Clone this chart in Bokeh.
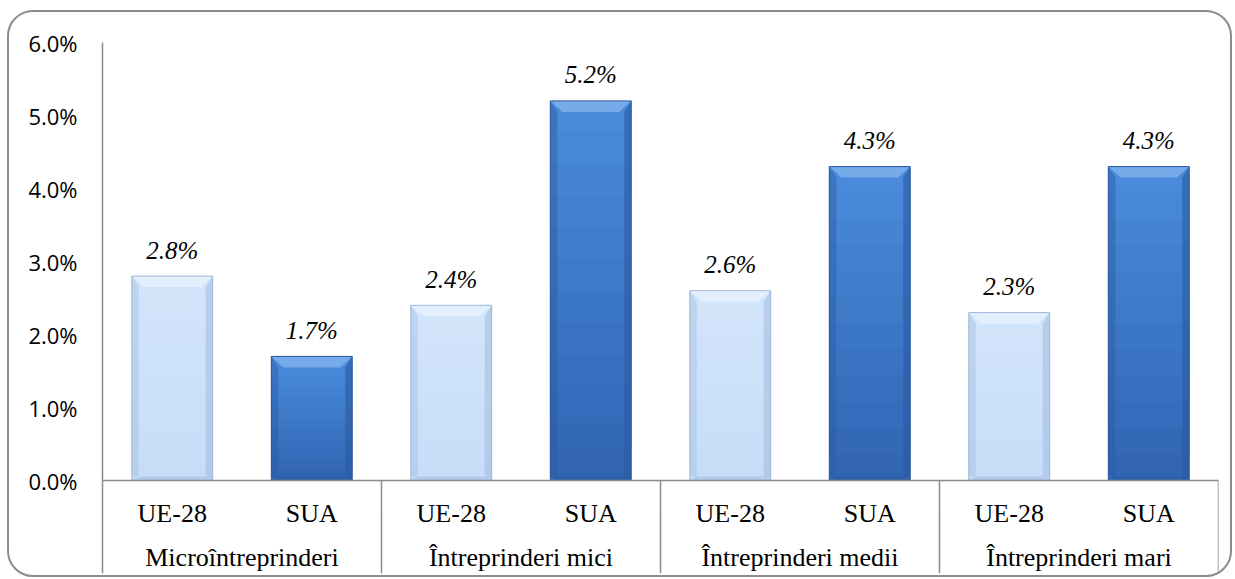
import numpy as np
from bokeh.plotting import figure
from bokeh.models import FixedTicker, PrintfTickFormatter, InlineStyleSheet
from bokeh.core.properties import value
from bokeh.embed import file_html
from bokeh.resources import INLINE

# ---- data ----
groups = ["Microîntreprinderi", "Întreprinderi mici", "Întreprinderi medii", "Întreprinderi mari"]
series = ["UE-28", "SUA"]
ue28 = [2.8, 2.4, 2.6, 2.3]
sua = [1.7, 5.2, 4.3, 4.3]
y_ticks = [0, 1, 2, 3, 4, 5, 6]

# ---- styles ----
W, H = 1235, 579
FRAME_L, FRAME_R, FRAME_T, FRAME_B = 102, 1218, 42, 573
Y_MAX = 6.0
px_per_unit_y = (480 - FRAME_T) / Y_MAX
Y_MIN = -(FRAME_B - 480) / px_per_unit_y
n_slots = len(groups) * len(series)
px_per_unit_x = (FRAME_R - FRAME_L) / n_slots

BAR_W = 0.58
styles = {
    "UE-28": dict(top="#d3e5fb", bottom="#c6dcf7", bevel="#e8f1fd", side="#a3bfe2", line="#9fb8d8"),
    "SUA": dict(top="#4a8cdc", bottom="#3164b3", bevel="#7cb0eb", side="#2a5aa0", line="#2b5797"),
}

def mix(c1, c2, t):
    a = [int(c1[i:i + 2], 16) for i in (1, 3, 5)]
    b = [int(c2[i:i + 2], 16) for i in (1, 3, 5)]
    return "#%02x%02x%02x" % tuple(int(round(a[k] + (b[k] - a[k]) * t)) for k in range(3))

xs, vals, names = [], [], []
for gi, g in enumerate(groups):
    for si, s in enumerate(series):
        xs.append(gi * len(series) + si + 0.5)
        vals.append(ue28[gi] if s == "UE-28" else sua[gi])
        names.append(s)

p = figure(width=W, height=H, x_range=(0, n_slots), y_range=(Y_MIN, Y_MAX),
           output_backend="svg", toolbar_location=None, x_axis_location=None,
           min_border_left=FRAME_L, min_border_right=W - FRAME_R,
           min_border_top=FRAME_T, min_border_bottom=H - FRAME_B)
p.xgrid.visible = False
p.ygrid.visible = False
p.outline_line_color = None
p.background_fill_color = "white"
p.border_fill_color = "white"

ax = p.yaxis[0]
ax.ticker = FixedTicker(ticks=y_ticks)
ax.formatter = PrintfTickFormatter(format="%.1f%%")
ax.major_label_text_font = "Open Sans"
ax.major_label_text_font_size = "22px"
ax.major_label_text_color = "#000000"
ax.axis_line_color = "#8c8c8c"
ax.axis_line_width = 1.5
ax.major_tick_line_color = None
ax.minor_tick_line_color = None
ax.major_tick_out = 0
ax.major_tick_in = 0
ax.major_label_standoff = 25

# ---- bars with vertical gradient (overlapping bands) and bevel ----
NB = 12
bl, br, bb, bt, bc = [], [], [], [], []
for x, v, s in zip(xs, vals, names):
    st = styles[s]
    for k in range(NB):
        bl.append(x - BAR_W / 2); br.append(x + BAR_W / 2)
        bb.append(v * k / NB); bt.append(min(v, v * (k + 2) / NB))
        bc.append(mix(st["bottom"], st["top"], (k + 0.5) / NB))
p.quad(left=bl, right=br, bottom=bb, top=bt, fill_color=bc, line_color=None)

dx = 12 / px_per_unit_x
dy = 11 / px_per_unit_y
sx = 7 / px_per_unit_x
sb = 4 / px_per_unit_y
px_, py_, pc_, pa_ = [], [], [], []
for x, v, s in zip(xs, vals, names):
    st = styles[s]
    l, r = x - BAR_W / 2, x + BAR_W / 2
    px_.append([l, l + sx, l + sx, l]); py_.append([sb, sb, v - dy, v]); pc_.append(st["side"]); pa_.append(0.45)
    px_.append([r, r - sx, r - sx, r]); py_.append([0, sb, v - dy, v]); pc_.append(st["side"]); pa_.append(0.6)
    px_.append([l, r, r - sx, l + sx]); py_.append([0, 0, sb, sb]); pc_.append(st["side"]); pa_.append(0.6)
    px_.append([l, r, r - dx, l + dx]); py_.append([v, v, v - dy, v - dy]); pc_.append(st["bevel"]); pa_.append(0.85)
p.patches(xs=px_, ys=py_, fill_color=pc_, fill_alpha=pa_, line_color=None)
p.quad(left=[x - BAR_W / 2 for x in xs], right=[x + BAR_W / 2 for x in xs],
       bottom=[0] * len(xs), top=vals, fill_color=None,
       line_color=[styles[s]["line"] for s in names], line_width=1)

# ---- value labels ----
p.text(x=xs, y=vals, text=["%.1f%%" % v for v in vals], text_align="center",
       text_baseline="middle", y_offset=-26, text_font=value("Liberation Serif"),
       text_font_style="italic", text_font_size="25px", text_color="#000000")

# ---- category axis (two levels) ----
p.segment(x0=[0], y0=[0], x1=[n_slots], y1=[0], line_color="#8c8c8c", line_width=1.5)
sep_x = [(gi + 1) * len(series) for gi in range(len(groups))]
p.segment(x0=sep_x, y0=[0] * len(sep_x), x1=sep_x, y1=[Y_MIN] * len(sep_x),
          line_color="#8c8c8c", line_width=1.5)
p.text(x=xs, y=[-33 / px_per_unit_y] * len(xs), text=names, text_align="center",
       text_baseline="middle", text_font=value("Liberation Serif"),
       text_font_size="26px", text_color="#000000")
p.text(x=[gi * len(series) + len(series) / 2 for gi in range(len(groups))],
       y=[-77 / px_per_unit_y] * len(groups), text=groups, text_align="center",
       text_baseline="middle", text_font=value("Liberation Serif"),
       text_font_size="26px", text_color="#000000")

# ---- rounded chart border (page-level styling) ----
p.stylesheets = [InlineStyleSheet(css="""
:host { position: relative; }
:host::after {
  content: "";
  position: absolute;
  left: 7px; top: 10px; width: 1225px; height: 567px;
  box-sizing: border-box;
  border: 2px solid #8c8c8c;
  border-radius: 26px;
  pointer-events: none;
}
""")]

open("out.html", "w").write(file_html(p, INLINE))
